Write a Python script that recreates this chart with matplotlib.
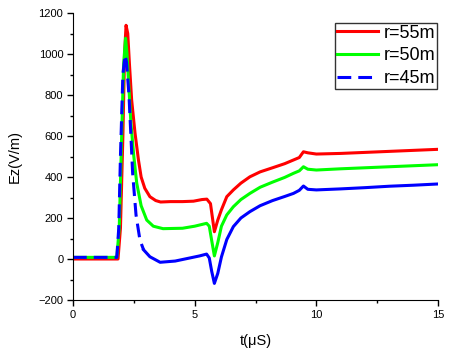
import numpy as np
import matplotlib
matplotlib.use('Agg')
import matplotlib.pyplot as plt
from matplotlib.ticker import MultipleLocator

plt.rcParams['font.family'] = ['Liberation Sans', 'DejaVu Sans']

# r = 55 m
t_red = [0, 1.85, 1.95, 2.05, 2.12, 2.18, 2.25, 2.32, 2.41, 2.55, 2.69, 2.8, 2.95, 3.16, 3.4,
         3.6, 4.0, 4.5, 4.95, 5.3, 5.5, 5.65, 5.81, 5.95, 6.1, 6.32, 6.59, 6.9, 7.27, 7.69,
         8.2, 8.7, 9.06, 9.3, 9.47, 9.65, 10.0, 11, 12, 13, 14, 15]
ez_red = [0, 0, 150, 600, 1000, 1140, 1100, 950, 776, 613, 483, 400, 345, 304, 285,
          278, 280, 280, 282, 290, 292, 270, 133, 190, 240, 304, 337, 370, 401, 425,
          445, 465, 483, 495, 523, 518, 512, 515, 520, 525, 530, 535]

# r = 50 m
t_green = [0, 1.8, 1.9, 2.0, 2.08, 2.16, 2.22, 2.3, 2.38, 2.5, 2.62, 2.8, 3.03, 3.3, 3.7,
           4.5, 5.0, 5.49, 5.6, 5.7, 5.81, 5.95, 6.1, 6.32, 6.59, 6.9, 7.27, 7.69, 8.2,
           8.7, 9.06, 9.3, 9.47, 9.65, 10.0, 11, 12, 13, 14, 15]
ez_green = [8, 8, 150, 600, 950, 1077, 1000, 830, 662, 500, 369, 260, 190, 160, 148,
            150, 160, 174, 160, 90, 15, 80, 160, 215, 255, 290, 320, 350, 375,
            398, 418, 430, 450, 438, 434, 440, 445, 450, 455, 460]

# r = 45 m
t_blue = [0, 1.8, 1.88, 1.95, 2.05, 2.14, 2.2, 2.3, 2.38, 2.45, 2.59, 2.75, 2.9, 3.16, 3.58,
          4.2, 4.8, 5.2, 5.49, 5.6, 5.7, 5.81, 5.95, 6.1, 6.32, 6.59, 6.9, 7.27, 7.69,
          8.2, 8.7, 9.06, 9.3, 9.47, 9.65, 10.0, 11, 12, 13, 14, 15]
ez_blue = [8, 8, 150, 500, 900, 995, 960, 800, 600, 420, 215, 93, 45, 11, -16,
           -10, 5, 15, 24, 5, -60, -119, -70, 10, 95, 158, 200, 231, 260,
           285, 305, 320, 335, 356, 340, 337, 342, 348, 355, 360, 366]

labels = ['r=55m', 'r=50m', 'r=45m']

fig = plt.figure(figsize=(4.5, 3.52), dpi=100)
ax = fig.add_axes([73 / 450, 52 / 352, 365 / 450, 287 / 352])

ax.plot(t_red, ez_red, color='#ff0000', lw=2.2, label=labels[0])
ax.plot(t_green, ez_green, color='#00ff00', lw=2.2, label=labels[1])

# blue: dashed on the steep part, looks solid elsewhere
tb = np.array(t_blue)
eb = np.array(ez_blue)
steep = tb <= 2.9
ax.plot(tb[steep], eb[steep], color='#0000ff', lw=2.2, dashes=(4.5, 2.3), label=labels[2])
ax.plot(tb[tb >= 2.9], eb[tb >= 2.9], color='#0000ff', lw=2.2)

ax.set_xlim(0, 15)
ax.set_ylim(-200, 1200)
ax.xaxis.set_major_locator(MultipleLocator(5))
ax.xaxis.set_minor_locator(MultipleLocator(2.5))
ax.yaxis.set_major_locator(MultipleLocator(200))
ax.yaxis.set_minor_locator(MultipleLocator(100))
ax.tick_params(which='major', direction='out', length=4, width=1, labelsize=8, pad=3)
ax.tick_params(which='minor', direction='out', length=2.5, width=1)
ax.spines['top'].set_visible(False)
ax.spines['right'].set_visible(False)

ax.set_xlabel('t(\u03bcS)', fontsize=10.5, labelpad=10)
ax.set_ylabel('Ez(V/m)', fontsize=10.5, labelpad=12)

leg = ax.legend(loc='upper right', bbox_to_anchor=(0.997, 0.966), borderaxespad=0,
                fontsize=13, frameon=True, fancybox=False, handlelength=2.3,
                handletextpad=0.3, labelspacing=0.32, borderpad=0.1)
leg.get_frame().set_edgecolor('black')
leg.get_frame().set_linewidth(1)

fig.savefig('out.png', dpi=100)
